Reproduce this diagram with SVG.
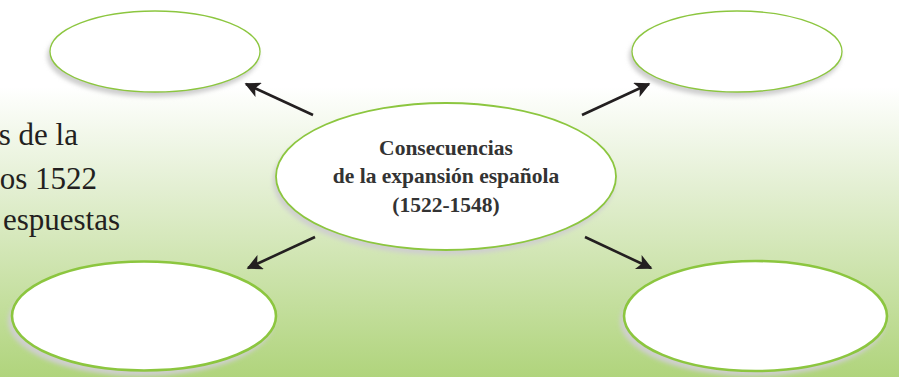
<svg xmlns="http://www.w3.org/2000/svg" width="899" height="377" viewBox="0 0 899 377">
<defs>
<linearGradient id="bg" x1="0" y1="0" x2="0" y2="377" gradientUnits="userSpaceOnUse">
<stop offset="0" stop-color="#ffffff"/>
<stop offset="0.23" stop-color="#ffffff"/>
<stop offset="0.5" stop-color="#e3efd2"/>
<stop offset="1" stop-color="#b0d47c"/>
</linearGradient>
<filter id="blur" x="-10%" y="-20%" width="120%" height="140%"><feGaussianBlur stdDeviation="2"/></filter>
<marker id="ah" viewBox="0 0 10 10" refX="9" refY="5" markerWidth="7" markerHeight="6" markerUnits="strokeWidth" orient="auto">
<path d="M0,0 L10,5 L0,10 L2.5,5 Z" fill="#231f20"/>
</marker>
<style>
.sh{fill:#cfcfcf;filter:url(#blur);}
.n{fill:#ffffff;stroke:#8cc63f;}
.t1{stroke-width:1.3;}
.t2{stroke-width:1.8;}
.t3{stroke-width:2.6;}
.ct{font-family:'Liberation Serif','DejaVu Serif',serif;font-weight:bold;font-size:21.5px;fill:#333333;text-anchor:middle;}
.lt{font-family:'Liberation Serif','DejaVu Serif',serif;font-size:31px;fill:#231f20;text-anchor:end;}
.c{stroke:#231f20;stroke-width:2.6;fill:none;marker-end:url(#ah);}
</style>
</defs>
<rect x="0" y="0" width="899" height="377" fill="url(#bg)"/>
<g id="bgtext">
<text class="lt" x="78" y="145">s de la</text>
<text class="lt" x="97" y="189">os 1522</text>
<text class="lt" x="120" y="230">espuestas</text>
</g>
<g id="connectors">
<line class="c" x1="313" y1="115" x2="246" y2="84"/>
<line class="c" x1="582" y1="115" x2="649" y2="84"/>
<line class="c" x1="315" y1="237" x2="248" y2="268"/>
<line class="c" x1="585" y1="237" x2="651" y2="268"/>
</g>
<g id="node-top-left">
<ellipse class="sh" cx="153" cy="56" rx="106" ry="41"/>
<ellipse class="n t1" cx="155" cy="51.5" rx="105" ry="40.5"/>
</g>
<g id="node-top-right">
<ellipse class="sh" cx="735" cy="56" rx="106" ry="41"/>
<ellipse class="n t1" cx="737" cy="51.5" rx="105" ry="40.5"/>
</g>
<g id="node-center">
<ellipse class="sh" cx="444" cy="181" rx="171" ry="74"/>
<ellipse class="n t2" cx="446" cy="176.5" rx="170" ry="73.5"/>
<text class="ct" x="446" y="155">Consecuencias</text>
<text class="ct" x="446" y="183">de la expansión española</text>
<text class="ct" x="446" y="212">(1522-1548)</text>
</g>
<g id="node-bottom-left">
<ellipse class="sh" cx="141" cy="321" rx="133" ry="55"/>
<ellipse class="n t3" cx="144" cy="316" rx="132" ry="54.5"/>
</g>
<g id="node-bottom-right">
<ellipse class="sh" cx="753" cy="321" rx="133" ry="55"/>
<ellipse class="n t3" cx="755.5" cy="316" rx="131.5" ry="55"/>
</g>
</svg>
